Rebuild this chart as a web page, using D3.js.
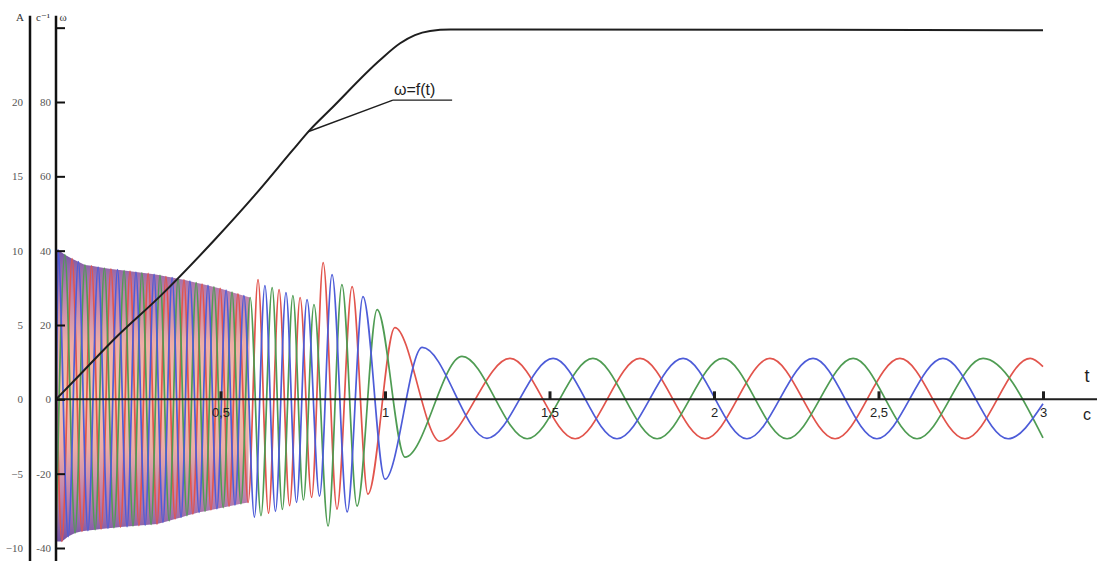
<!DOCTYPE html>
<html>
<head>
<meta charset="utf-8">
<script src="https://cdn.jsdelivr.net/npm/d3@7"></script>
<style>
  html, body { margin: 0; padding: 0; background: #fff; }
  svg { display: block; }
</style>
</head>
<body>
<svg id="chart" width="1097" height="561"></svg>
<script>
// ---- axis ticks ----
const timeTicks = [0.5, 1, 1.5, 2, 2.5, 3];
const timeTickLabels = ["0,5", "1", "1,5", "2", "2,5", "3"];
const currentTicks = [-10, -5, 0, 5, 10, 15, 20];
const omegaTicks = [-40, -20, 0, 20, 40, 60, 80, 100];
const omegaLabeled = [-40, -20, 0, 20, 40, 60, 80];

// ---- rotor speed ω(t), 1/s ----
const omegaCurve = [
  [0, 0], [0.082, 7.5], [0.185, 16.9], [0.316, 27.7], [0.483, 43.0],
  [0.605, 55.0], [0.720, 67.1], [0.772, 72.5], [0.833, 77.9], [0.985, 91.3],
  [1.046, 95.8], [1.091, 98.0], [1.137, 99.1], [1.198, 99.5], [3.0, 99.3]
];

// ---- phase currents, A: successive extrema [t, i] ----
const phaseA = [
  [0, 3.0], [0.018, -9.56], [0.049, 9.46], [0.079, -8.88], [0.108, 8.98], [0.137, -8.72],
  [0.167, 8.77], [0.196, -8.59], [0.225, 8.62], [0.252, -8.49], [0.280, 8.47], [0.307, -8.39],
  [0.334, 8.26], [0.362, -8.05], [0.389, 8.04], [0.416, -7.71], [0.444, 7.75], [0.471, -7.44],
  [0.499, 7.46], [0.526, -7.19], [0.553, 7.09], [0.584, -6.94], [0.614, 8.05], [0.646, -7.66],
  [0.678, 7.38], [0.710, -7.15], [0.742, 6.85], [0.777, -6.60], [0.812, 9.19], [0.854, -7.38],
  [0.900, 7.58], [0.948, -6.38], [1.030, 4.83], [1.167, -2.82], [1.380, 2.75], [1.578, -2.65],
  [1.775, 2.75], [1.973, -2.65], [2.170, 2.75], [2.368, -2.65], [2.565, 2.75], [2.763, -2.65],
  [2.961, 2.75], [3.000, 2.2]
];
const phaseB = [
  [0, -9.5], [0.006, 10.07], [0.037, -9.23], [0.068, 9.26], [0.097, -8.83], [0.128, 8.90],
  [0.158, -8.67], [0.187, 8.72], [0.216, -8.56], [0.243, 8.56], [0.271, -8.46], [0.298, 8.41],
  [0.325, -8.28], [0.353, 8.19], [0.380, -7.94], [0.407, 7.95], [0.435, -7.60], [0.462, 7.66],
  [0.489, -7.36], [0.517, 7.34], [0.544, -7.11], [0.571, 6.97], [0.603, -7.92], [0.635, 7.65],
  [0.667, -7.53], [0.699, 7.18], [0.731, -6.93], [0.763, 6.71], [0.801, -6.51], [0.839, 8.39],
  [0.885, -7.58], [0.933, 6.91], [1.000, -5.37], [1.113, 3.49], [1.310, -2.62], [1.511, 2.75],
  [1.705, -2.65], [1.906, 2.75], [2.100, -2.65], [2.301, 2.75], [2.495, -2.65], [2.696, 2.75],
  [2.894, -2.65], [3.000, -0.3]
];
const phaseC = [
  [0, -9.6], [0.027, 9.73], [0.058, -8.99], [0.088, 9.04], [0.119, -8.77], [0.147, 8.83],
  [0.176, -8.63], [0.207, 8.66], [0.234, -8.52], [0.261, 8.51], [0.289, -8.42], [0.316, 8.34],
  [0.344, -8.17], [0.371, 8.11], [0.398, -7.82], [0.426, 7.85], [0.453, -7.52], [0.480, 7.56],
  [0.508, -7.28], [0.535, 7.21], [0.562, -7.03], [0.590, 6.85], [0.623, -7.83], [0.657, 7.52],
  [0.688, -7.40], [0.720, 6.98], [0.752, -6.77], [0.784, 6.38], [0.827, -8.52], [0.869, 7.72],
  [0.915, -7.18], [0.976, 6.04], [1.061, -3.89], [1.234, 2.89], [1.432, -2.65], [1.632, 2.75],
  [1.827, -2.65], [2.027, 2.75], [2.222, -2.65], [2.423, 2.75], [2.617, -2.65], [2.818, 2.75],
  [3.000, -2.6]
];

const phases = [
  { data: phaseA, color: "#e2544c" },
  { data: phaseC, color: "#4f9c53" },
  { data: phaseB, color: "#4d5cd8" }
];

// the fast start-up oscillations blur into a band up to this time
const denseUntil = 0.60;

// ---- layout ----
const W = 1097, H = 561;
const svg = d3.select("#chart");

const x = d3.scaleLinear().domain([0, 3]).range([56, 1043]);
const yA = d3.scaleLinear().domain([-10, 20]).range([548, 102]);   // current, A
const yW = d3.scaleLinear().domain([-40, 80]).range([548, 102]);   // speed, 1/s

const serif = "'Liberation Serif', 'DejaVu Serif', serif";
const sans = "'Liberation Sans', Arial, sans-serif";

// ---- band behind the dense start-up oscillations ----
const defs = svg.append("defs");
const grad = defs.append("linearGradient")
  .attr("id", "bandFill").attr("x1", 0).attr("y1", 0).attr("x2", 0).attr("y2", 1);
[
  [0.00, "#5a3596", 0.85],
  [0.15, "#9c4a8c", 0.7],
  [0.32, "#e58a80", 0.7],
  [0.50, "#f2ad8e", 0.7],
  [0.68, "#e58a80", 0.7],
  [0.85, "#9c4a8c", 0.7],
  [1.00, "#5a3596", 0.85]
].forEach(([o, c, a]) => grad.append("stop")
  .attr("offset", o).attr("stop-color", c).attr("stop-opacity", a));

const extrema = phases.flatMap(p => p.data).filter(d => d[0] <= denseUntil && d[0] > 0);
const upper = extrema.filter(d => d[1] > 0).sort((a, b) => a[0] - b[0]);
const lower = extrema.filter(d => d[1] < 0).sort((a, b) => b[0] - a[0]);
const bandLine = d3.line().x(d => x(d[0])).y(d => yA(d[1]));
svg.append("path")
  .attr("d", bandLine([[0, upper[0][1]], ...upper, ...lower, [0, lower[lower.length - 1][1]]]) + "Z")
  .attr("fill", "url(#bandFill)");

// ---- currents ----
const currentLine = d3.line()
  .x(d => x(d[0]))
  .y(d => yA(d[1]))
  .curve(d3.curveMonotoneX);

svg.append("g").selectAll("path")
  .data(phases)
  .join("path")
  .attr("d", p => currentLine(p.data))
  .attr("fill", "none")
  .attr("stroke", p => p.color)
  .attr("stroke-width", 1.7)
  .attr("stroke-linejoin", "round");

// ---- speed curve ----
const omegaLine = d3.line()
  .x(d => x(d[0]))
  .y(d => yW(d[1]))
  .curve(d3.curveMonotoneX);

svg.append("path")
  .attr("d", omegaLine(omegaCurve))
  .attr("fill", "none")
  .attr("stroke", "#1e1e1e")
  .attr("stroke-width", 2);

// annotation ω=f(t)
const tagPoint = [0.766, 72.0];
const tagStart = [1.024, 80.5];
const tagEnd = [1.204, 80.5];
const ann = svg.append("g").attr("stroke", "#1e1e1e").attr("stroke-width", 1.4);
ann.append("line")
  .attr("x1", x(tagPoint[0])).attr("y1", yW(tagPoint[1]))
  .attr("x2", x(tagStart[0])).attr("y2", yW(tagStart[1]));
ann.append("line")
  .attr("x1", x(tagStart[0])).attr("y1", yW(tagStart[1]))
  .attr("x2", x(tagEnd[0])).attr("y2", yW(tagEnd[1]));
svg.append("text")
  .attr("x", x(tagStart[0]) + 1)
  .attr("y", yW(tagStart[1]) - 5)
  .attr("font-family", sans)
  .attr("font-size", 16)
  .attr("fill", "#1e1e1e")
  .text("ω=f(t)");

// ---- time axis ----
svg.append("line")
  .attr("x1", x(0)).attr("x2", W)
  .attr("y1", yA(0)).attr("y2", yA(0))
  .attr("stroke", "#1e1e1e").attr("stroke-width", 2);

const tAxis = svg.append("g")
  .attr("transform", `translate(0,${yA(0)})`)
  .call(d3.axisBottom(x)
    .tickValues(timeTicks)
    .tickFormat((d, i) => timeTickLabels[i])
    .tickSizeInner(-8)
    .tickSizeOuter(0)
    .tickPadding(8));
tAxis.select(".domain").remove();
tAxis.selectAll(".tick line").attr("stroke", "#1e1e1e").attr("stroke-width", 3);
tAxis.selectAll(".tick text")
  .attr("font-family", sans).attr("font-size", 13).attr("fill", "#1e1e1e");

svg.append("text").attr("x", 1087).attr("y", yA(0) - 17)
  .attr("text-anchor", "middle")
  .attr("font-family", sans).attr("font-size", 18).attr("fill", "#1e1e1e")
  .text("t");
svg.append("text").attr("x", 1087).attr("y", yA(0) + 21)
  .attr("text-anchor", "middle")
  .attr("font-family", sans).attr("font-size", 16).attr("fill", "#1e1e1e")
  .text("c");

// ---- current axis (outer) ----
const aAxis = svg.append("g")
  .attr("transform", "translate(30,0)")
  .call(d3.axisLeft(yA).tickValues(currentTicks).tickSize(0).tickPadding(7));
aAxis.select(".domain").remove();
aAxis.selectAll(".tick text")
  .attr("font-family", serif).attr("font-size", 11).attr("fill", "#555");
svg.append("line")
  .attr("x1", 30).attr("x2", 30)
  .attr("y1", yA(25.8)).attr("y2", H)
  .attr("stroke", "#111").attr("stroke-width", 2.5);

// ---- speed axis (inner) ----
const wAxis = svg.append("g")
  .attr("transform", "translate(56,0)")
  .call(d3.axisRight(yW).tickValues(omegaTicks).tickSize(9).tickFormat(""));
wAxis.select(".domain").remove();
wAxis.selectAll(".tick line").attr("stroke", "#111").attr("stroke-width", 2);

svg.append("g").selectAll("text")
  .data(omegaLabeled)
  .join("text")
  .attr("x", 51)
  .attr("y", d => yW(d))
  .attr("dy", "0.35em")
  .attr("text-anchor", "end")
  .attr("font-family", serif).attr("font-size", 11).attr("fill", "#555")
  .text(d => d);

svg.append("line")
  .attr("x1", 56).attr("x2", 56)
  .attr("y1", yA(25.8)).attr("y2", H)
  .attr("stroke", "#111").attr("stroke-width", 2.5);

// axis titles
const titles = [
  { x: 20, text: "A" },
  { x: 43, text: "с⁻¹" },
  { x: 63, text: "ω" }
];
svg.append("g").selectAll("text")
  .data(titles)
  .join("text")
  .attr("x", d => d.x)
  .attr("y", 21)
  .attr("text-anchor", "middle")
  .attr("font-family", serif).attr("font-size", 11).attr("fill", "#333")
  .text(d => d.text);
</script>
</body>
</html>
